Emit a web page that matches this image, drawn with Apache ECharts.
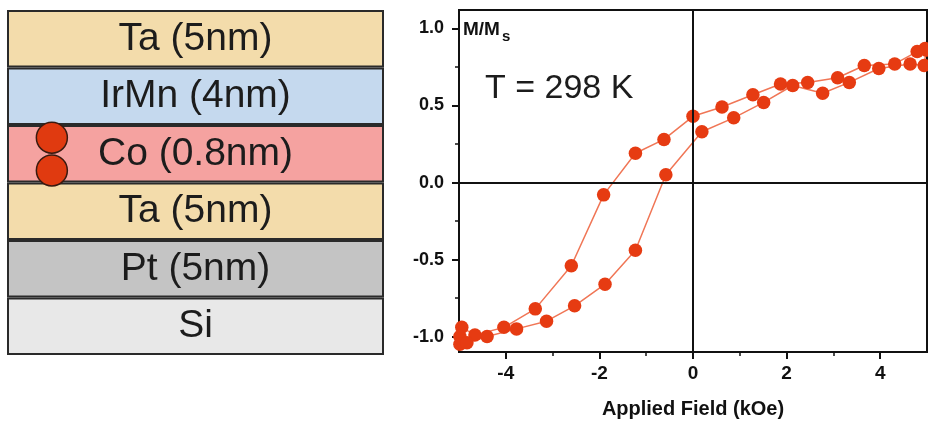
<!DOCTYPE html>
<html>
<head>
<meta charset="utf-8">
<script src="https://cdn.jsdelivr.net/npm/echarts@6/dist/echarts.min.js"></script>
<style>
html,body{margin:0;padding:0;background:#fff;}
#chart{width:928px;height:424px;}
</style>
</head>
<body>
<div id="chart"></div>
<script>
// ---- Layer stack (left panel) ----
var layerNames = ['Ta (5nm)', 'IrMn (4nm)', 'Co (0.8nm)', 'Ta (5nm)', 'Pt (5nm)', 'Si'];
var layerThickness = [1, 1, 1, 1, 1, 1];
var layerColors = ['#f3dcab', '#c5d9ee', '#f5a2a0', '#f3dcab', '#c4c4c4', '#e8e8e8'];
var atomPos = [[0.119, 2.22], [0.119, 2.79]];

// ---- Hysteresis loop (right panel) ----
var fieldDown = [4.96, 4.79, 4.31, 3.66, 3.09, 2.45, 1.87, 1.28, 0.62, 0.00, -0.62, -1.23, -1.91, -2.60, -3.37, -4.04, -4.66, -4.94, -4.98];
var mDown     = [0.87, 0.85, 0.77, 0.76, 0.68, 0.65, 0.64, 0.57, 0.49, 0.43, 0.28, 0.19, -0.08, -0.54, -0.82, -0.94, -0.99, -0.94, -1.00];
var fieldUp   = [-4.98, -4.83, -4.40, -3.77, -3.13, -2.53, -1.88, -1.23, -0.58, 0.19, 0.87, 1.51, 2.13, 2.77, 3.34, 3.97, 4.64, 4.94, 4.98];
var mUp       = [-1.05, -1.04, -1.00, -0.95, -0.90, -0.80, -0.66, -0.44, 0.05, 0.33, 0.42, 0.52, 0.63, 0.58, 0.65, 0.74, 0.77, 0.76, 0.86];

var xTicks = [-4, -2, 0, 2, 4];
var xMinorTicks = [-3, -1, 1, 3];
var yTicks = [-1.0, -0.5, 0.0, 0.5, 1.0];
var yTickLabels = ['-1.0', '-0.5', '0.0', '0.5', '1.0'];
var yMinorTicks = [-0.75, -0.25, 0.25, 0.75];

function zip(a, b) { return a.map(function (v, i) { return [v, b[i]]; }); }

var FONT = 'Liberation Sans, Arial, sans-serif';
var lineColor = '#f07656';
var dotColor = '#e63b12';

var chart = echarts.init(document.getElementById('chart'), null, {renderer: 'canvas'});

var option = {
  backgroundColor: '#ffffff',
  animation: false,
  grid: [
    {left: 459, top: 10, width: 468, height: 344, show: true, borderColor: '#111', borderWidth: 2, backgroundColor: 'transparent'},
    {left: 7, top: 10, width: 377, height: 345}
  ],
  xAxis: [
    {
      gridIndex: 0, type: 'value', min: -5, max: 5, interval: 1, position: 'bottom',
      axisLine: {show: true, onZero: false, lineStyle: {color: '#111', width: 2}},
      axisTick: {show: true, inside: false, length: 7, customValues: xTicks, lineStyle: {color: '#111', width: 2}},
      axisLabel: {show: true, margin: 12, customValues: xTicks, color: '#111', fontFamily: FONT, fontWeight: 'bold', fontSize: 19,
        formatter: function (v) { return xTicks.indexOf(v) >= 0 ? String(v) : ''; }},
      splitLine: {show: false},
      name: 'Applied Field (kOe)', nameLocation: 'middle', nameGap: 47,
      nameTextStyle: {color: '#111', fontFamily: FONT, fontWeight: 'bold', fontSize: 20}
    },
    {
      gridIndex: 0, type: 'value', min: -5, max: 5, interval: 1, position: 'bottom',
      axisLine: {show: false, onZero: false},
      axisTick: {show: true, inside: false, length: 4, customValues: xMinorTicks, lineStyle: {color: '#111', width: 1.5}},
      axisLabel: {show: false},
      splitLine: {show: false}
    },
    {gridIndex: 1, type: 'value', min: 0, max: 1, show: false}
  ],
  yAxis: [
    {
      gridIndex: 0, type: 'value', min: -1.1, max: 1.12, interval: 0.5, position: 'left',
      axisLine: {show: true, onZero: false, lineStyle: {color: '#111', width: 2}},
      axisTick: {show: true, inside: false, length: 7, customValues: yTicks, lineStyle: {color: '#111', width: 2}},
      axisLabel: {show: true, margin: 15, customValues: yTicks, color: '#111', fontFamily: FONT, fontWeight: 'bold', fontSize: 18,
        formatter: function (v) {
          for (var i = 0; i < yTicks.length; i++) { if (Math.abs(yTicks[i] - v) < 1e-6) return yTickLabels[i]; }
          return '';
        }},
      splitLine: {show: false}
    },
    {
      gridIndex: 0, type: 'value', min: -1.1, max: 1.12, position: 'left',
      axisLine: {show: false, onZero: false},
      axisTick: {show: true, inside: false, length: 4, customValues: yMinorTicks, lineStyle: {color: '#111', width: 1.5}},
      axisLabel: {show: false},
      splitLine: {show: false}
    },
    {gridIndex: 1, type: 'category', data: layerNames, inverse: true, show: false},
    {gridIndex: 1, type: 'value', min: 0, max: layerNames.length, inverse: true, show: false}
  ],
  series: [
    {
      type: 'line', xAxisIndex: 0, yAxisIndex: 0, data: [], z: 1, silent: true,
      markLine: {
        silent: true, symbol: 'none', animation: false,
        label: {show: false},
        lineStyle: {color: '#111', width: 2, type: 'solid'},
        data: [{xAxis: 0}, {yAxis: 0}]
      }
    },
    {
      name: 'down', type: 'line', xAxisIndex: 0, yAxisIndex: 0, z: 3,
      data: zip(fieldDown, mDown),
      symbol: 'circle', symbolSize: 13.5, showSymbol: true,
      lineStyle: {color: lineColor, width: 1.5},
      itemStyle: {color: dotColor, borderWidth: 0}
    },
    {
      name: 'up', type: 'line', xAxisIndex: 0, yAxisIndex: 0, z: 3,
      data: zip(fieldUp, mUp),
      symbol: 'circle', symbolSize: 13.5, showSymbol: true,
      lineStyle: {color: lineColor, width: 1.5},
      itemStyle: {color: dotColor, borderWidth: 0}
    },
    {
      type: 'bar', xAxisIndex: 2, yAxisIndex: 2, barWidth: '100%', barCategoryGap: 0,
      data: layerThickness.map(function (t, i) {
        return {value: t, itemStyle: {color: layerColors[i]}};
      }),
      itemStyle: {borderColor: '#2a2a2a', borderWidth: 2},
      label: {
        show: true, position: 'inside', color: '#1c1c1c', fontFamily: FONT, fontSize: 39,
        formatter: function (p) { return layerNames[p.dataIndex]; }
      },
      silent: true
    },
    {
      type: 'scatter', xAxisIndex: 2, yAxisIndex: 3, z: 5,
      data: atomPos, symbol: 'circle', symbolSize: 31,
      itemStyle: {color: '#e03a10', borderColor: '#3a1a10', borderWidth: 1.5, opacity: 1}
    }
  ],
  graphic: [
    {type: 'text', left: 463, top: 20, style: {text: 'M/M', fill: '#111', font: 'bold 19px ' + FONT}},
    {type: 'text', left: 502, top: 29, style: {text: 's', fill: '#111', font: 'bold 15px ' + FONT}},
    {type: 'text', left: 485, top: 72, style: {text: 'T = 298 K', fill: '#1c1c1c', font: '34px ' + FONT}}
  ]
};

chart.setOption(option);
</script>
</body>
</html>
